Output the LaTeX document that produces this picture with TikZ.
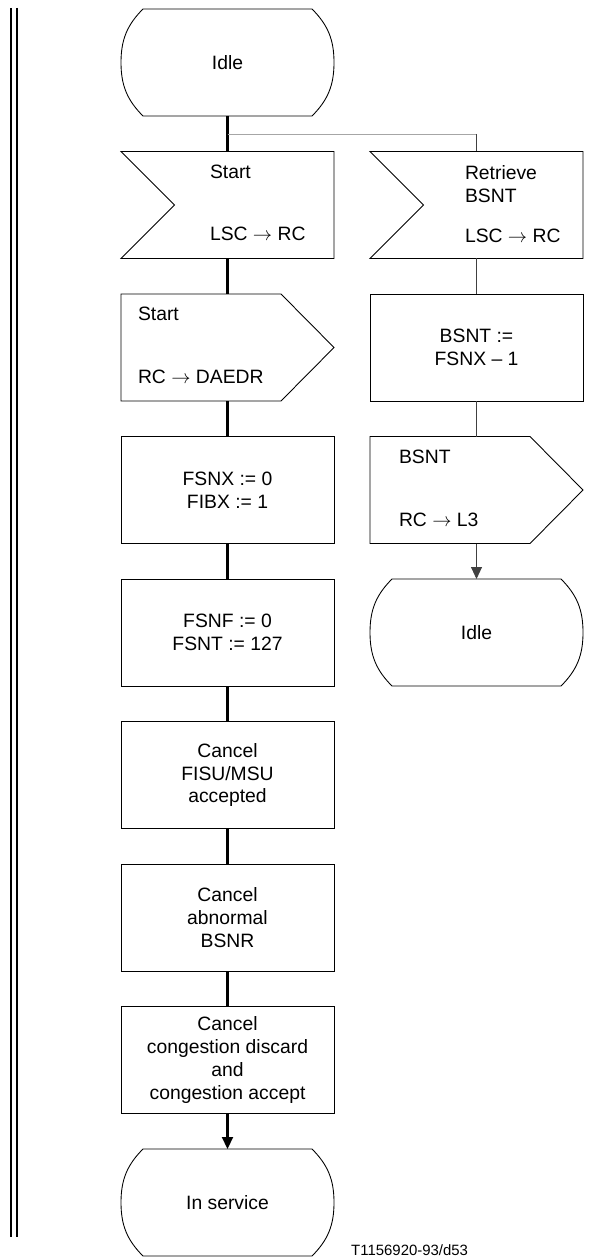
\documentclass[tikz,border=0pt]{standalone}
\usepackage{fontspec}
\setmainfont{Liberation Sans}
\usetikzlibrary{arrows.meta,positioning}

\tikzset{
	sym/.style={minimum width=4.26cm, minimum height=2.14cm, inner sep=0pt, outer sep=0pt, align=center},
	proc/.style={sym, draw, line width=0.5pt},
	outline/.style={line width=0.5pt},
	txt/.style={inner sep=0pt, outer sep=0pt, align=left, anchor=west},
	flow/.style={line width=1.2pt},
	side/.style={line width=0.5pt, black!75},
}
% outlines of the SDL symbols, drawn round a named node
\newcommand{\statesym}[1]{\draw[outline] ([xshift=4.4mm]#1.north west) -- ([xshift=-4.4mm]#1.north east) to[out=-45,in=90] (#1.east) to[out=-90,in=45] ([xshift=-4.4mm]#1.south east) -- ([xshift=4.4mm]#1.south west) to[out=135,in=-90] (#1.west) to[out=90,in=-135] ([xshift=4.4mm]#1.north west) -- cycle;}
\newcommand{\inputsym}[1]{\draw[outline] (#1.north west) -- (#1.north east) -- (#1.south east) -- (#1.south west) -- ([xshift=10.7mm]#1.west) -- cycle;}
\newcommand{\outputsym}[1]{\draw[outline] (#1.north west) -- ([xshift=-10.6mm]#1.north east) -- (#1.east) -- ([xshift=-10.6mm]#1.south east) -- (#1.south west) -- cycle;}

\begin{document}
\begin{tikzpicture}[every node/.style={font=\fontsize{11}{13}\selectfont}, >={Triangle[length=2.4mm,width=2.2mm]}]
	\useasboundingbox (0,0) rectangle (11.78,-25.18);
	\draw[line width=1.1pt] (0.22,-0.16) -- (0.22,-24.74) (0.34,-0.16) -- (0.34,-24.74);
	% left column
	\node[sym] (idle) at (4.55,-1.25) {Idle};
	\node[sym] (start) [below=7.1mm of idle] {};
	\node[sym] (startout) [below=7.1mm of start] {};
	\node[proc] (fsnx) [below=7.1mm of startout] {FSNX := 0\\FIBX := 1};
	\node[proc] (fsnf) [below=7.1mm of fsnx] {FSNF := 0\\FSNT := 127};
	\node[proc] (fisu) [below=7.1mm of fsnf] {Cancel\\FISU/MSU\\accepted};
	\node[proc] (abn) [below=7.1mm of fisu] {Cancel\\abnormal\\BSNR};
	\node[proc] (cong) [below=7.1mm of abn] {Cancel\\congestion discard\\and\\congestion accept};
	\node[sym] (insrv) [below=7.1mm of cong] {In service};
	% right column
	\node[sym] (retr) [right=7.2mm of start] {};
	\node[proc] (bsnt) [below=7.1mm of retr] {BSNT :=\\FSNX -- 1};
	\node[sym] (bsntout) [below=7.1mm of bsnt] {};
	\node[sym] (idle2) [below=7.1mm of bsntout] {Idle};
	\statesym{idle} \inputsym{start} \outputsym{startout} \statesym{insrv}
	\inputsym{retr} \outputsym{bsntout} \statesym{idle2}
	\node[txt] (start-t) at ([xshift=17.8mm,yshift=0.4mm]start.west) {Start\\[22pt]LSC $\rightarrow$ RC};
	\node[txt] (retr-t) at ([xshift=19mm,yshift=0.2mm]retr.west) {Retrieve\\BSNT\\[10pt]LSC $\rightarrow$ RC};
	\node[txt] (startout-t) at ([xshift=3.4mm,yshift=0.5mm]startout.west) {Start\\[23pt]RC $\rightarrow$ DAEDR};
	\node[txt] (bsntout-t) at ([xshift=5.8mm,yshift=0.4mm]bsntout.west) {BSNT\\[23pt]RC $\rightarrow$ L3};
	% connectors
	\draw[flow] (idle) -- (start);
	\draw[flow] (start) -- (startout);
	\draw[flow] (startout) -- (fsnx);
	\draw[flow] (fsnx) -- (fsnf);
	\draw[flow] (fsnf) -- (fisu);
	\draw[flow] (fisu) -- (abn);
	\draw[flow] (abn) -- (cong);
	\draw[flow,->] (cong) -- (insrv);
	\coordinate (br) at ([yshift=-3.6mm]idle.south);
	\coordinate (brR) at (br -| retr.north);
	\draw[line width=0.5pt, gray!70] (br) -- (brR);
	\draw[side] (brR) -- (retr);
	\draw[side] (retr) -- (bsnt);
	\draw[side] (bsnt) -- (bsntout);
	\draw[side,->] (bsntout) -- (idle2);
	\node[font=\fontsize{8.5}{10}\selectfont, anchor=base west] (tag) at (6.9,-25.1) {T1156920-93/d53};
\end{tikzpicture}
\end{document}
